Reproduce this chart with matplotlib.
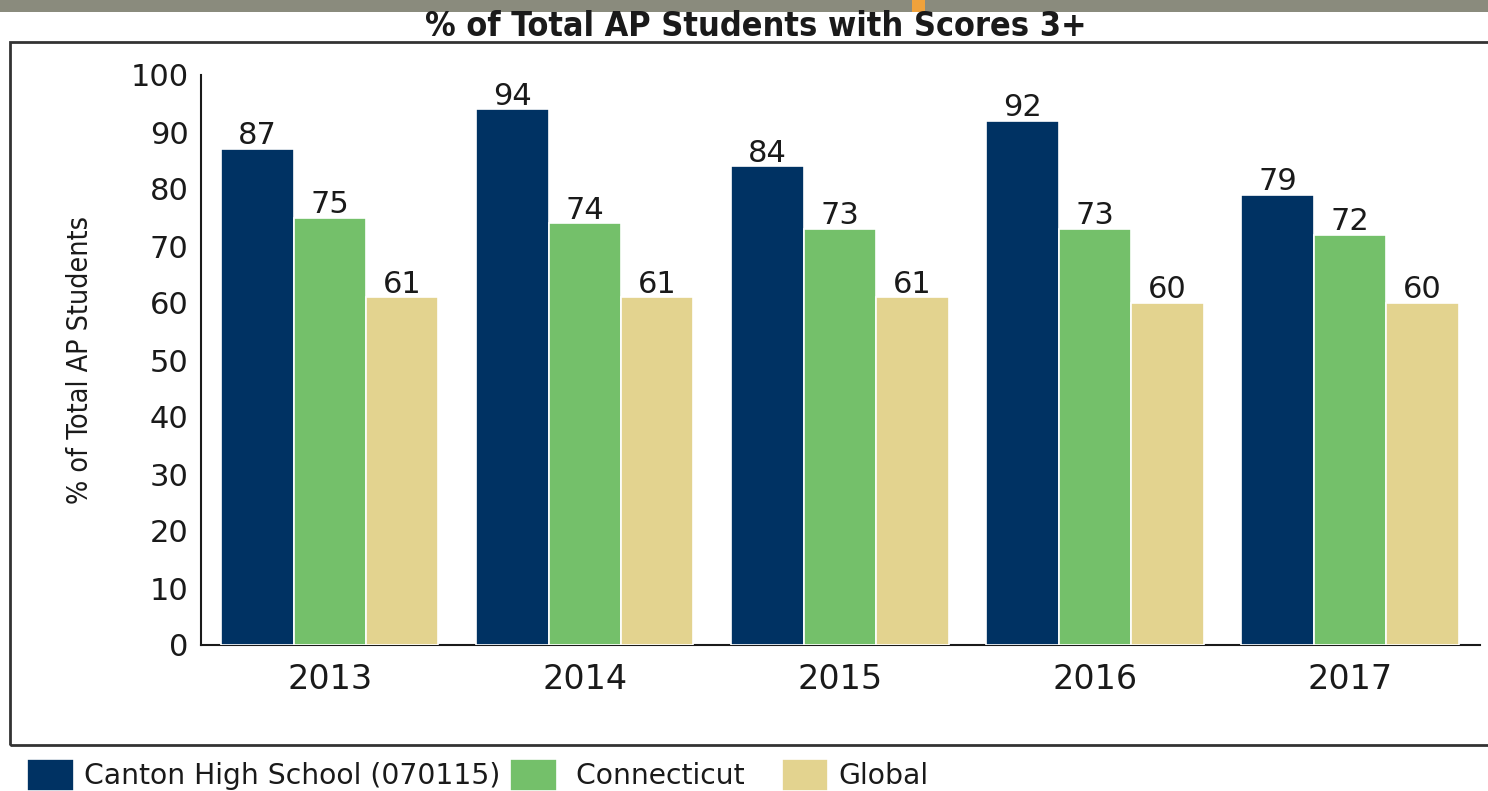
import numpy as np
import matplotlib
matplotlib.use("Agg")
import matplotlib.pyplot as plt
from matplotlib.patches import Rectangle

# data
years = ["2013", "2014", "2015", "2016", "2017"]
canton = [87, 94, 84, 92, 79]
connecticut = [75, 74, 73, 73, 72]
global_ = [61, 61, 61, 60, 60]
series_names = ["Canton High School (070115)", " Connecticut   ", "Global"]
colors = ["#003263", "#74c06a", "#e3d38f"]

fig = plt.figure(figsize=(14.88, 7.91), dpi=100)

# gray slide band at the top with the small orange mark
fig.add_artist(Rectangle((0, 1 - 12 / 791), 1, 12 / 791, transform=fig.transFigure,
                         facecolor="#8a8b7d", edgecolor="none"))
fig.add_artist(Rectangle((912 / 1488, 1 - 12 / 791), 13 / 1488, 12 / 791,
                         transform=fig.transFigure, facecolor="#f0a23c", edgecolor="none"))

# chart frame
fig.add_artist(Rectangle((10 / 1488, 1 - 745 / 791), 1.01, (745 - 42) / 791,
                         transform=fig.transFigure, facecolor="none",
                         edgecolor="#333333", linewidth=2))

ax = fig.add_axes([201 / 1488, 1 - 645 / 791, (1480 - 201) / 1488, (645 - 75) / 791])

x = np.arange(len(years))
w = 0.284
for i, (vals, name, c) in enumerate(zip([canton, connecticut, global_], series_names, colors)):
    bars = ax.bar(x + (i - 1) * w, vals, width=w, color=c, edgecolor="white",
                  linewidth=1.2, label=name, zorder=3)
    for b, v in zip(bars, vals):
        ax.annotate(str(v), (b.get_x() + b.get_width() / 2, v), xytext=(0, -1),
                    textcoords="offset points", ha="center", va="bottom",
                    fontsize=22, color="#1a1a1a")

ax.set_xlim(-0.505, 4.51)
ax.set_ylim(0, 100)
ax.set_yticks(range(0, 101, 10))
ax.set_xticks(x)
ax.set_xticklabels(years)
ax.tick_params(axis="both", length=0, colors="#1a1a1a")
ax.tick_params(axis="y", pad=9, labelsize=22)
ax.tick_params(axis="x", pad=13, labelsize=24)
for s in ["top", "right"]:
    ax.spines[s].set_visible(False)
for s in ["left", "bottom"]:
    ax.spines[s].set_linewidth(1.5)
    ax.spines[s].set_color("#1a1a1a")

ax.set_ylabel("% of Total AP Students", fontsize=20.5, fontstretch="condensed",
              color="#1a1a1a")
ax.yaxis.set_label_coords(-0.084, 0.5)

fig.text(756 / 1488, 1 - 27 / 791, "% of Total AP Students with Scores 3+",
         fontsize=24.5, fontweight="semibold", fontstretch="condensed", ha="center",
         va="center", color="#1a1a1a")

fig.legend(loc="center left", bbox_to_anchor=(27 / 1488, 1 - 775 / 791), ncol=3,
           frameon=False, fontsize=20.3, handlelength=1.65, handleheight=1.35,
           handletextpad=0.36, columnspacing=0.36, borderaxespad=0, borderpad=0,
           labelcolor="#1a1a1a")

fig.savefig("out.png", dpi=100)
